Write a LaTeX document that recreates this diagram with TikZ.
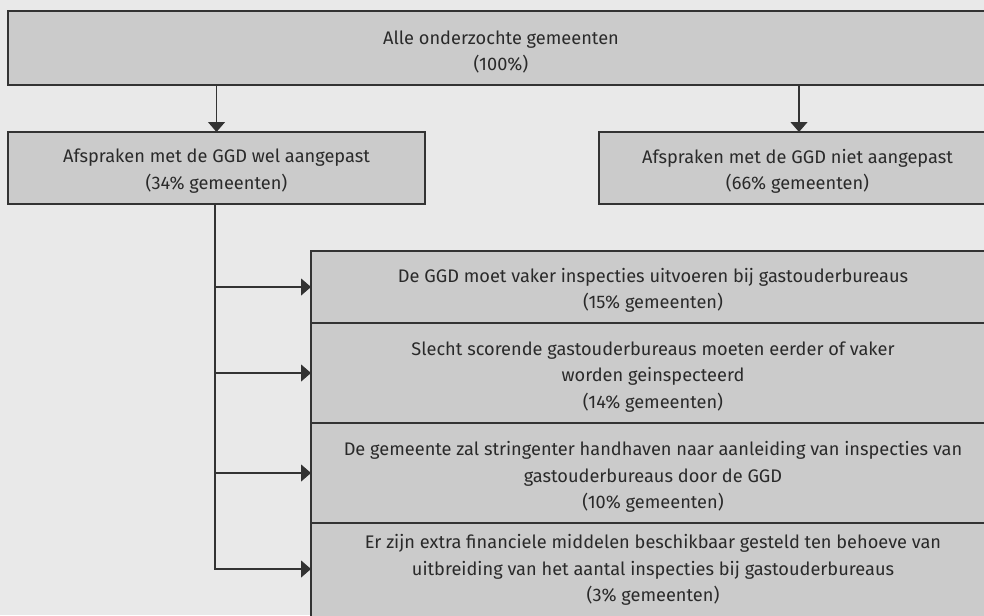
\documentclass[tikz,border=0pt]{standalone}
\usepackage{fontspec}
\setmainfont{Fira Sans}
\usetikzlibrary{arrows.meta}
\definecolor{bg}{HTML}{E9E9E9}
\definecolor{boxfill}{HTML}{CBCBCB}
\definecolor{linec}{HTML}{333333}
\definecolor{txt}{HTML}{2A2A2A}
\begin{document}
\begin{tikzpicture}[x=1pt,y=-1pt,
  box/.style={draw=linec, line width=1.3pt, fill=boxfill, anchor=north west, inner sep=0pt, outer sep=0pt},
  lbl/.style={text=txt, align=center, font=\fontsize{18.2}{26.3}\selectfont, inner sep=0pt},
  conn/.style={draw=linec, line width=1.3pt, -{Triangle[length=10pt,width=17pt]}}
]
\useasboundingbox (0,0) rectangle (984,615);
\fill[bg] (0,0) rectangle (984,615);
\begin{scope}
\clip (0,0) rectangle (984,615);
\node[box, minimum width=1000pt, minimum height=74pt] (top) at (8,11) {};
\node[box, minimum width=417pt, minimum height=72pt] (wel) at (8,132) {};
\node[box, minimum width=400pt, minimum height=72pt] (niet) at (599,132) {};
\node[box, minimum width=700pt, minimum height=72pt] (s1) at (311,251) {};
\node[box, minimum width=700pt, minimum height=100pt] (s2) at (311,323) {};
\node[box, minimum width=700pt, minimum height=100pt] (s3) at (311,423) {};
\node[box, minimum width=700pt, minimum height=100pt] (s4) at (311,523) {};

\node[lbl] (ttop) at (501,52) {Alle onderzochte gemeenten\\(100\%)};
\node[lbl] (twel) at (216.5,171) {Afspraken met de GGD wel aangepast\\(34\% gemeenten)};
\node[lbl] (tniet) at (797.5,171) {Afspraken met de GGD niet aangepast\\(66\% gemeenten)};
\node[lbl] (ts1) at (653,290) {De GGD moet vaker inspecties uitvoeren bij gastouderbureaus\\(15\% gemeenten)};
\node[lbl] (ts2) at (653,377) {Slecht scorende gastouderbureaus moeten eerder of vaker\\worden geinspecteerd\\(14\% gemeenten)};
\node[lbl] (ts3) at (653,477) {De gemeente zal stringenter handhaven naar aanleiding van inspecties van\\gastouderbureaus door de GGD\\(10\% gemeenten)};
\node[lbl] (ts4) at (653,570) {Er zijn extra financiele middelen beschikbaar gesteld ten behoeve van\\uitbreiding van het aantal inspecties bij gastouderbureaus\\(3\% gemeenten)};

\coordinate (a4) at (311,569);
\draw[conn] (top.south -| wel.north) -- (wel.north);
\draw[conn] (top.south -| niet.north) -- (niet.north);
\coordinate (trunk) at ([xshift=-1.5pt]wel.south);
\draw[conn] (trunk) |- (a4);
\draw[conn] (trunk |- s1.west) -- (s1.west);
\draw[conn] (trunk |- s2.west) -- (s2.west);
\draw[conn] (trunk |- s3.west) -- (s3.west);
\end{scope}
\end{tikzpicture}
\end{document}
